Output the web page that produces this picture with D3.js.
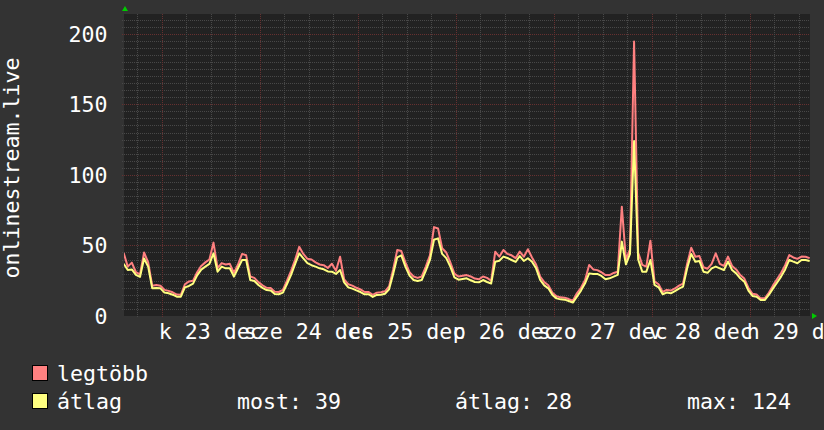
<!DOCTYPE html>
<html><head><meta charset="utf-8">
<script src="https://cdn.jsdelivr.net/npm/d3@7"></script>
<style>
html,body{margin:0;padding:0;background:#333333;}
svg{display:block;}
text{font-family:"DejaVu Sans Mono",monospace;fill:#ffffff;}
</style></head>
<body>
<svg id="chart" width="824" height="430"></svg>
<script>
// ---- data (hourly samples, first sample at 2025-12-22 14:40 UTC) ----
const seriesNames = ["legtöbb", "átlag"];
const seriesColors = ["#ff8080", "#ffff80"];
const maxValues = [44.7,35,37.8,31,29.5,45,38,21.5,22,21.5,18.5,17.8,16.8,15.2,15,22.5,24.5,25,31,35.5,
38,40,52,34,37.5,36.5,37,30.5,36.5,44,43,28,27,24,21.8,20,19.8,17.2,17,18.5,
25,32,40,49,44,40.5,40,38,36.5,36,34,37,32,42,26,22.5,21.5,20,18.8,17,
17,15,16.5,16.8,17.5,21,33,46.8,46,38,31,28,27,28,35,43,63,62,48,45,
38,30,28,28.5,29,28,26.5,26,28,27,25,45.6,42,46.8,44,43,41,45.6,42,47.3,
41.5,36.5,28,24,21.8,16.5,14,13.2,13,12,10.8,16.1,20,25.5,36.2,33,32.5,31,29,29,
30.5,31.4,77.5,40,47.3,194.5,45,36.2,35,53.4,24.5,22.5,17,18.5,18,19.5,21.5,23,37,48.4,
42,42.5,34.5,33.5,37,44.4,37,35.5,42.1,35.5,33,29,26.5,20,15.8,15.2,12.5,12.5,16.5,21.5,
26,30.5,36,43.2,41.5,40.5,42.1,42,41];
const avgValues = [37,32.6,33,29.1,27.7,40.7,35,19.6,19.9,19.6,16.6,16.1,15.1,13.7,13.7,20.3,21.3,22.9,28.8,32.9,
35,36.9,44.4,31.4,35,33.8,33.8,27.9,33.8,39.7,39.7,25.5,24.8,22,19.9,18.4,18,15.6,15.4,16.6,
22.7,29.1,36.9,44.4,40.9,37.4,36,35,33.8,33.1,31.6,31.4,29.8,32.6,23.8,20.3,19.4,18.2,17,15.4,
15.4,13.5,14.9,15.1,15.8,18.9,29.8,41.6,43,35,28.6,25.5,24.8,25.5,32.2,39.7,54,55,44,41,
35,27.4,25.7,26.2,26.7,25.3,24.1,23.9,25.5,24.1,23,38.5,39.2,42.1,41.1,39.7,38.3,42.5,39,40.9,
38.5,33.8,25.5,21.7,19.6,14.9,12.5,11.8,11.6,10.6,9.5,13.7,18,23.2,30.2,29.8,29.8,28.4,26,26.7,
27.9,29.1,52.7,36.6,44,124,40,31.4,31.4,39.7,22,20.3,15.4,16.6,16.1,17.7,19.4,20.8,33.8,44,
38.5,39,31.4,30.6,33.8,35,33.8,32.6,38.5,32.6,30.2,26.7,24.3,18,14.2,13.7,11.3,11.3,14.9,19.4,
23.6,27.9,33,39.7,38.5,37.4,39.7,39.7,39];
const yTicks = [0, 50, 100, 150, 200];
const dayLabels = ["k 23 dec", "sze 24 dec", "cs 25 dec", "p 26 dec", "szo 27 dec", "v 28 dec", "h 29 dec"];
const yTitle = "onlinestream.live";
const legendStats = ["most: 39", "átlag: 28", "max: 124"];

// ---- layout ----
const svg = d3.select("#chart");
const plot = {left: 124, right: 810, top: 14, bottom: 316};
const tStart = new Date(Date.UTC(2025, 11, 22, 14, 45));
const tEnd = new Date(Date.UTC(2025, 11, 29, 14, 45));
const dataStart = new Date(Date.UTC(2025, 11, 22, 14, 40));

const x = d3.scaleUtc().domain([tStart, tEnd]).range([plot.left, plot.right]);
const y = d3.scaleLinear().domain([0, 214]).range([plot.bottom, plot.top]);

svg.append("rect").attr("width", 824).attr("height", 430).attr("fill", "#333333");
svg.append("rect").attr("x", plot.left).attr("y", plot.top)
  .attr("width", plot.right - plot.left).attr("height", plot.bottom - plot.top).attr("fill", "#222222");

const grid = svg.append("g").attr("shape-rendering", "crispEdges");
const minorColor = "#484848", majorColor = "#663030";
d3.range(5, 214, 5).forEach(v => {
  const major = v % 50 === 0;
  grid.append("line")
    .attr("x1", plot.left - 2).attr("x2", plot.right)
    .attr("y1", Math.round(y(v)) + 0.5).attr("y2", Math.round(y(v)) + 0.5)
    .attr("stroke", major ? majorColor : minorColor)
    .attr("stroke-dasharray", "1,1");
});
d3.utcHour.every(6).range(tStart, tEnd).forEach(t => {
  const major = t.getUTCHours() === 0;
  grid.append("line")
    .attr("x1", Math.round(x(t)) + 0.5).attr("x2", Math.round(x(t)) + 0.5)
    .attr("y1", plot.top).attr("y2", plot.bottom + 2)
    .attr("stroke", major ? majorColor : minorColor)
    .attr("stroke-dasharray", "1,1");
});

// y tick labels
svg.append("g").selectAll("text").data(yTicks).join("text")
  .attr("x", 107.5).attr("y", d => y(d) + 8)
  .attr("text-anchor", "end").attr("font-size", "21.6px").text(d => d);

// x labels at noon
const noons = d3.utcDay.range(new Date(Date.UTC(2025, 11, 23)), new Date(Date.UTC(2025, 11, 30)))
  .map(d => new Date(d.getTime() + 12 * 3600e3));
svg.append("g").selectAll("text").data(noons).join("text")
  .attr("x", d => x(d)).attr("y", 338.5)
  .attr("text-anchor", "middle").attr("font-size", "21.6px")
  .text((d, i) => dayLabels[i]);

// y title
svg.append("text").attr("transform", "translate(18.5,168) rotate(-90)")
  .attr("text-anchor", "middle").attr("font-size", "21.6px").text(yTitle);

// lines
svg.append("clipPath").attr("id", "clip").append("rect")
  .attr("x", plot.left).attr("y", plot.top).attr("width", plot.right - plot.left).attr("height", plot.bottom - plot.top + 2);
const toPoints = arr => arr.map((v, i) => ({t: new Date(dataStart.getTime() + i * 3600e3), v}));
const line = d3.line().x(d => x(d.t)).y(d => y(d.v));
const lines = svg.append("g").attr("clip-path", "url(#clip)");
[maxValues, avgValues].forEach((arr, i) => {
  lines.append("path").datum(toPoints(arr)).attr("d", line)
    .attr("fill", "none").attr("stroke", seriesColors[i]).attr("stroke-width", 2)
    .attr("stroke-linejoin", "round");
});

// arrows
svg.append("path").attr("d", `M${plot.left - 2},${plot.top - 3} L${plot.left + 4},${plot.top - 3} L${plot.left + 1},${plot.top - 8} Z`).attr("fill", "#00cc00");
svg.append("path").attr("d", `M${plot.right + 2},${plot.bottom - 3} L${plot.right + 2},${plot.bottom + 3} L${plot.right + 7},${plot.bottom} Z`).attr("fill", "#00cc00");

// legend
const legY = [365.5, 393.5];
const legBase = [381, 408.5];
seriesNames.forEach((n, i) => {
  svg.append("rect").attr("x", 32.5).attr("y", legY[i]).attr("width", 15).attr("height", 15)
    .attr("fill", seriesColors[i]).attr("stroke", "#000").attr("stroke-width", 1);
  svg.append("text").attr("x", 57).attr("y", legBase[i]).attr("font-size", "21.6px").text(n);
});
const statX = [237, 455, 687];
legendStats.forEach((s, i) => {
  svg.append("text").attr("x", statX[i]).attr("y", legBase[1]).attr("font-size", "21.6px").text(s);
});
</script>
</body></html>
